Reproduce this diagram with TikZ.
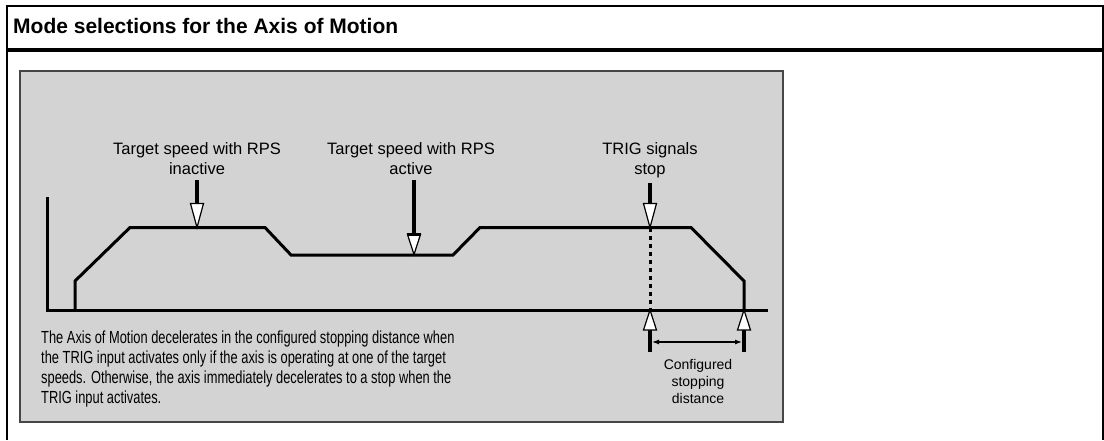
\documentclass[tikz,border=0pt]{standalone}
\usepackage{fontspec}
\setmainfont{Liberation Sans}
\newfontfamily\narrowfont[FakeStretch=0.735]{Liberation Sans}
\definecolor{panelgray}{RGB}{211,211,211}
\definecolor{panelrule}{RGB}{70,70,70}
\usetikzlibrary{arrows.meta}
\tikzset{
  title/.style={font=\bfseries\fontsize{21}{25}\selectfont, anchor=north west, inner sep=0pt},
  panel/.style={fill=panelgray, draw=panelrule, line width=1.5pt},
  profile/.style={line width=3pt, line join=miter},
  trigline/.style={line width=3pt, dash pattern=on 4.5pt off 3.5pt},
  lbl/.style={font=\fontsize{16.5}{20}\selectfont, align=center, anchor=north, inner sep=0pt},
  distlbl/.style={font=\fontsize{14}{17}\selectfont, align=center, anchor=north, inner sep=0pt},
  note/.style={font=\narrowfont\fontsize{17.5}{20}\selectfont, align=left, anchor=north west, inner sep=0pt},
  shaft/.style={line width=3.5pt, shorten <=5pt, shorten >=10pt},
  dimline/.style={line width=1.2pt, {Latex[length=7pt,width=5pt]}-{Latex[length=7pt,width=5pt]}}
}
% hollow arrow heads: tip, length, half width
\newcommand{\downhead}[3]{\filldraw[fill=white, draw=black, line width=1.2pt, line join=miter] (#1) -- ++(-#3,-#2) -- ++(2*#3,0) -- cycle;}
\newcommand{\uphead}[3]{\filldraw[fill=white, draw=black, line width=1.2pt, line join=miter] (#1) -- ++(-#3,#2) -- ++(2*#3,0) -- cycle;}
\begin{document}
\begin{tikzpicture}[x=1pt, y=-1pt]
  \useasboundingbox (0,0) rectangle (1104,440);
  % frame and header
  \draw[line width=2pt] (7,440) -- (7,6) -- (1103,6) -- (1103,440);
  \draw[line width=4pt] (7,49.7) -- (1103,49.7);
  \node[title] (ttl) at (13,18) {Mode selections for the Axis of Motion};
  % gray panel
  \draw[panel] (20,71) rectangle (783,422);
  % axes
  \coordinate (yTop) at (47,197); \coordinate (O) at (47,310); \coordinate (xEnd) at (768,310);
  \draw[profile] (yTop) -- (O) -- (xEnd);
  % speed profile
  \coordinate (P0) at (75,310); \coordinate (P1) at (75,281); \coordinate (P2) at (130,227.5);
  \coordinate (P3) at (265,227.5); \coordinate (P4) at (291,255); \coordinate (P5) at (453,255);
  \coordinate (P6) at (480,227.5); \coordinate (P7) at (691,227.5); \coordinate (P8) at (744,281);
  \coordinate (P9) at (744,310);
  \draw[profile] (P0) -- (P1) -- (P2) -- (P3) -- (P4) -- (P5) -- (P6) -- (P7) -- (P8) -- (P9);
  % TRIG stop point
  \coordinate (tTrig) at (650,227.5); \coordinate (trigBase) at (650,310);
  \draw[trigline] (tTrig) -- (trigBase);
  % labels with arrows
  \node[lbl] (lblInactive) at (197,142.5) {Target speed with RPS\\inactive};
  \node[lbl] (lblActive) at (411,142.5) {Target speed with RPS\\active};
  \node[lbl] (lblTrig) at (650,142.5) {TRIG signals\\stop};
  \coordinate (tInactive) at (197,227.5); \coordinate (tActive) at (414,254.5);
  \draw[shaft] (tInactive |- lblInactive.south) -- (tInactive);
  \draw[shaft] (tActive |- lblActive.south) -- (tActive);
  \draw[shaft] (tTrig |- lblTrig.south) -- (tTrig);
  \downhead{tInactive}{24}{6.5}
  \downhead{tTrig}{24}{6.5}
  \downhead{tActive}{20}{6.5}
  \draw[line width=3.5pt] (tActive) ++(-7,-20) -- ++(14,0);
  % stopping distance
  \coordinate (sL) at (650,352); \coordinate (sR) at (744,352);
  \draw[shaft, shorten <=0pt] (sL) -- (trigBase);
  \draw[shaft, shorten <=0pt] (sR) -- (P9);
  \uphead{trigBase}{20}{6.5}
  \uphead{P9}{20}{6.5}
  \coordinate (dL) at (652,342); \coordinate (dR) at (742,342);
  \draw[dimline] (dL) -- (dR);
  \node[distlbl] (lblDist) at (698,359) {Configured\\stopping\\distance};
  % note
  \node[note] (txtNote) at (41,330.5) {The Axis of Motion decelerates in the configured stopping distance when\\
    the TRIG input activates only if the axis is operating at one of the target\\
    speeds. Otherwise, the axis immediately decelerates to a stop when the\\
    TRIG input activates.};
\end{tikzpicture}
\end{document}
